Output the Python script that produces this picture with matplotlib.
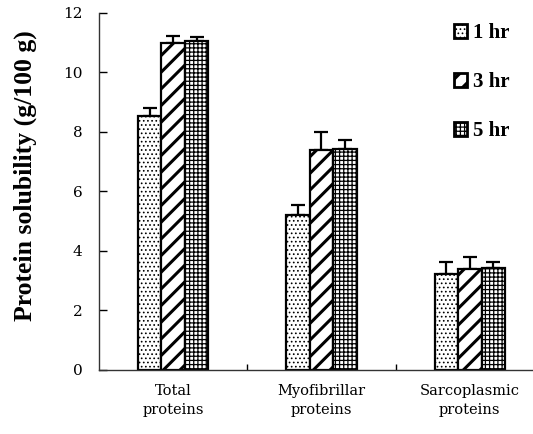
import numpy as np
import matplotlib
matplotlib.use("Agg")
import matplotlib.pyplot as plt
from matplotlib.patches import Patch

# data
categories = ["Total\nproteins", "Myofibrillar\nproteins", "Sarcoplasmic\nproteins"]
series = ["1 hr", "3 hr", "5 hr"]
mean_1hr = [8.55, 5.21, 3.23]
mean_3hr = [10.99, 7.39, 3.39]
mean_5hr = [11.06, 7.43, 3.43]
err_1hr = [0.27, 0.34, 0.40]
err_3hr = [0.24, 0.61, 0.41]
err_5hr = [0.13, 0.30, 0.20]

hatches = ["....", "//", "++++"]
hatch_lw = [0.7, 2.2, 0.9]

plt.rcParams["hatch.linewidth"] = 0.8


def set_hlw(patch, lw):
    # per-artist hatch width exists in newer matplotlib only
    if hasattr(patch, "set_hatch_linewidth"):
        patch.set_hatch_linewidth(lw)


fig = plt.figure(figsize=(5.33, 4.34), dpi=100)
ax = fig.add_axes([0.1857, 0.1475, 0.8349, 0.8226])

x = np.arange(len(categories))
w = 0.158
means = [mean_1hr, mean_3hr, mean_5hr]
errs = [err_1hr, err_3hr, err_5hr]

for i in range(3):
    pos = x + (i - 1) * w
    bars = ax.bar(pos, means[i], width=w, color="white", edgecolor="black",
                  linewidth=1.6, hatch=hatches[i], zorder=2)
    for b in bars:
        set_hlw(b, hatch_lw[i])
    ax.errorbar(pos, means[i], yerr=[np.zeros(3), errs[i]], fmt="none",
                ecolor="black", elinewidth=1.6, capsize=5, capthick=1.6, zorder=1)

ax.set_xlim(-0.5, 2.5)
ax.set_ylim(0, 12)
ax.set_yticks(np.arange(0, 13, 2))
ax.set_xticks(x)
ax.set_xticklabels(categories, family="DejaVu Serif", fontsize=10.5,
                   linespacing=1.45)
ax.tick_params(axis="x", length=0, pad=10)
ax.set_xticks([0.5, 1.5, 2.5], minor=True)
ax.tick_params(axis="x", which="minor", direction="in", length=4, width=1)
ax.tick_params(axis="y", direction="in", length=6, width=1, pad=12,
               labelsize=11)
for lab in ax.get_yticklabels():
    lab.set_family("DejaVu Serif")
    lab.set_fontweight("light")

for s in ["top", "right"]:
    ax.spines[s].set_visible(False)
for s in ["left", "bottom"]:
    ax.spines[s].set_linewidth(1.0)
    ax.spines[s].set_color("#333333")

ax.set_ylabel("Protein solubility (g/100 g)", family="Liberation Serif",
              fontweight="bold", fontsize=18.5)
ax.yaxis.set_label_coords(-0.14, 0.545)

handles = [Patch(facecolor="white", edgecolor="black", linewidth=2.0,
                 hatch=hatches[i], label=series[i]) for i in range(3)]
leg = ax.legend(handles=handles, loc="upper left", bbox_to_anchor=(0.817, 0.99),
                bbox_transform=fig.transFigure, frameon=False,
                handlelength=0.62, handleheight=0.62, handletextpad=0.3,
                labelspacing=1.4, prop={"family": "Liberation Serif", "size": 15,
                                        "weight": "bold"})
for p, lw in zip(leg.get_patches(), hatch_lw):
    set_hlw(p, lw)

fig.savefig("out.png", dpi=100)
